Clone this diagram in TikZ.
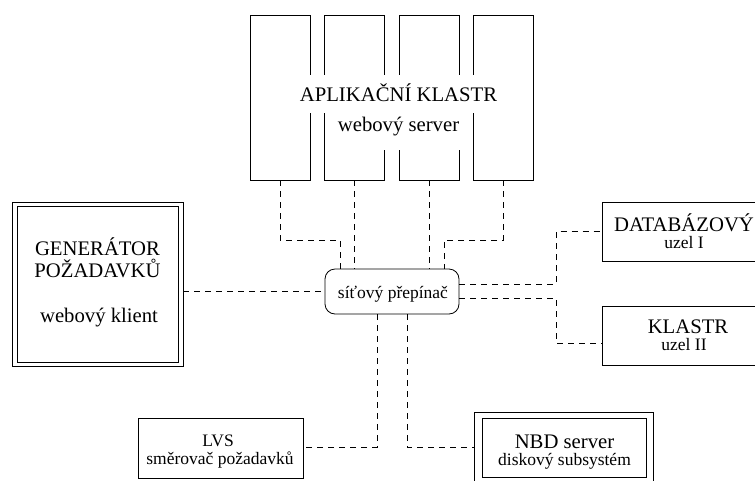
\documentclass[tikz,border=0pt]{standalone}
\usepackage{fontspec}
\setmainfont{Liberation Serif}
\newcommand\bigf{\fontsize{20.7}{24}\selectfont}
\newcommand\smf{\fontsize{17.5}{20}\selectfont}
\begin{document}
\begin{tikzpicture}[x=1pt,y=-1pt,
  box/.style={draw, line width=0.8pt, inner sep=0pt, outer sep=0pt},
  conn/.style={draw, line width=0.8pt, dash pattern=on 6pt off 5pt},
  lbl/.style={anchor=base, inner sep=0pt, font=\bigf},
  slbl/.style={anchor=base, inner sep=0pt, font=\smf}]
\useasboundingbox (0,0) rectangle (755,480);
% application cluster
\node[box, minimum width=60pt, minimum height=165pt] (app1) at (280,97.5) {};
\node[box, minimum width=60pt, minimum height=165pt] (app2) at (354,97.5) {};
\node[box, minimum width=60pt, minimum height=165pt] (app3) at (429,97.5) {};
\node[box, minimum width=60pt, minimum height=165pt] (app4) at (503,97.5) {};
\fill[white] (296,75) rectangle (500,113);
\fill[white] (336,113) rectangle (461,150);
\node[lbl] (apptitle) at (398.5,101.7) {APLIKAČNÍ KLASTR};
\node[lbl] (appsub) at (398.5,131.7) {webový server};
% generator
\node[box, minimum width=171pt, minimum height=164pt] (gen) at (97.5,284) {};
\node[box, minimum width=161pt, minimum height=156pt] (genin) at (97.5,284) {};
\node[lbl] (gen1) at (97.5,255.7) {GENERÁTOR};
\node[lbl] (gen2) at (97.5,277) {POŽADAVKŮ};
\node[lbl] (gen3) at (99,322) {webový klient};
% switch
\node[box, rounded corners=10pt, minimum width=134pt, minimum height=45pt] (sw) at (392,291.5) {};
\node[slbl] (swt) at (393,298.3) {síťový přepínač};
% database
\node[box, minimum width=164pt, minimum height=59pt] (db) at (684,231.5) {};
\node[lbl] (db1) at (684,231) {DATABÁZOVÝ};
\node[slbl] (db2) at (684,248) {uzel I};
\node[box, minimum width=164pt, minimum height=58.5pt] (kl) at (684,336) {};
\node[lbl] (kl1) at (688,333.3) {KLASTR};
\node[slbl] (kl2) at (684,350) {uzel II};
% LVS
\node[box, minimum width=165pt, minimum height=60pt] (lvs) at (220.5,448) {};
\node[slbl] (lvs1) at (218,446.7) {LVS};
\node[slbl] (lvs2) at (220,464) {směrovač požadavků};
% NBD
\node[box, minimum width=179pt, minimum height=74pt] (nbd) at (563.5,449) {};
\node[box, minimum width=164pt, minimum height=59pt] (nbdin) at (564,447.5) {};
\node[lbl] (nbd1) at (564.5,448.3) {NBD server};
\node[slbl] (nbd2) at (564.5,465) {diskový subsystém};
% junctions
\coordinate (j1) at (340,240);
\coordinate (j4) at (444,240);
\coordinate (d1) at (556,284);
\coordinate (d2) at (556,298);
\coordinate (k2) at (556,343);
\coordinate (b1) at (377,447);
\coordinate (b2) at (407,447);
% connectors
\draw[conn] (app1.south) |- (j1) -- (j1 |- sw.north);
\draw[conn] (app2.south) -- (app2.south |- sw.north);
\draw[conn] (app3.south) -- (app3.south |- sw.north);
\draw[conn] (app4.south) |- (j4) -- (j4 |- sw.north);
\draw[conn] (sw.west -| gen.east) -- (sw.west);
\draw[conn] (d1 -| sw.east) -- (d1) |- (db.west);
\draw[conn] (d2 -| sw.east) -- (d2) -- (k2) -- (k2 -| kl.west);
\draw[conn] (b1 |- sw.south) -- (b1) -- (b1 -| lvs.east);
\draw[conn] (b2 |- sw.south) -- (b2) -- (b2 -| nbd.west);
\end{tikzpicture}
\end{document}
